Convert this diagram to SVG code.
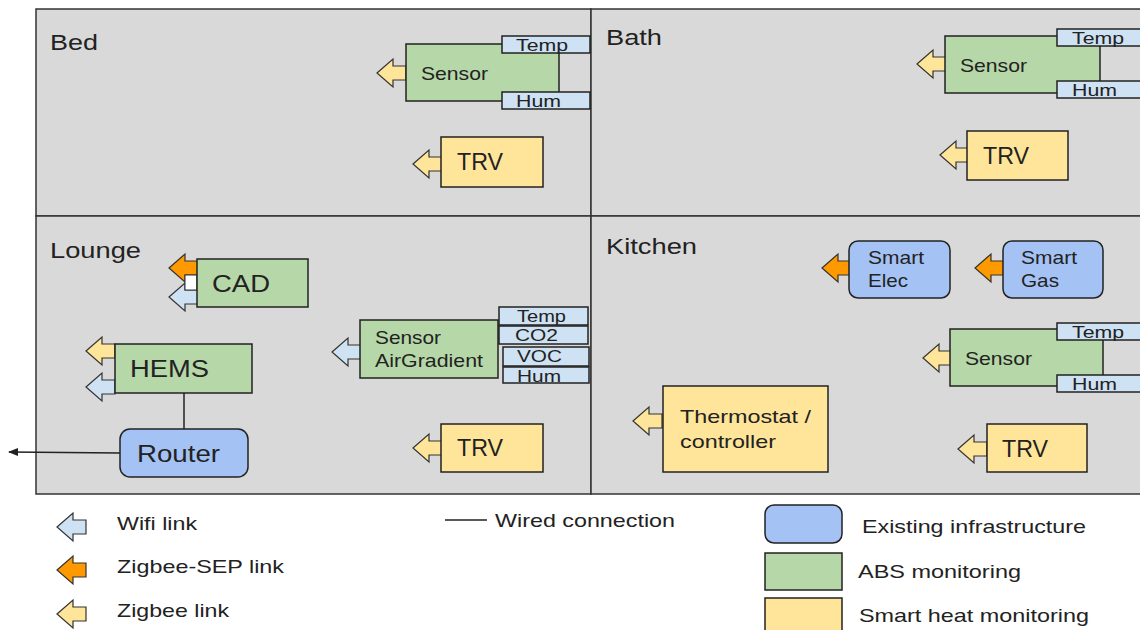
<svg xmlns="http://www.w3.org/2000/svg" width="1140" height="630" viewBox="0 0 1140 630">
<style>
text{font-family:"Liberation Sans",Arial,sans-serif;fill:#222}
.room{fill:#d9d9d9;stroke:#333;stroke-width:1.5}
.g{fill:#b6d7a8;stroke:#222;stroke-width:1.5}
.b{fill:#a4c2f4;stroke:#222;stroke-width:1.5}
.y{fill:#ffe599;stroke:#222;stroke-width:1.5}
.lb{fill:#cfe2f3;stroke:#222;stroke-width:1.5}
.aw{fill:#cfe2f3;stroke:#333;stroke-width:1.2}
.az{fill:#ffe599;stroke:#333;stroke-width:1.2}
.ao{fill:#ff9900;stroke:#333;stroke-width:1.2}
.lbl{font-size:22px}
.s16{font-size:17px}
.s18{font-size:19px}
.s22{font-size:23px}
.wire{stroke:#222;stroke-width:1.5;fill:none}
</style>
<defs>
<path id="arr" d="M0,0 L16,-14 L16,-7 L29,-7 L29,7 L16,7 L16,14 Z"/>
<marker id="mk" viewBox="0 0 10 10" refX="9" refY="5" markerWidth="7" markerHeight="7" orient="auto-start-reverse"><path d="M0,1 L10,5 L0,9 Z" fill="#222"/></marker>
</defs>
<rect width="1140" height="630" fill="#fff"/>
<g id="rooms">
<g id="bed"><rect class="room" x="36" y="9" width="555" height="207"/><text class="lbl" x="50" y="50" textLength="48" lengthAdjust="spacingAndGlyphs">Bed</text></g>
<g id="bath"><rect class="room" x="591" y="9" width="552" height="207"/><text class="lbl" x="606" y="45" textLength="56" lengthAdjust="spacingAndGlyphs">Bath</text></g>
<g id="lounge"><rect class="room" x="36" y="216" width="555" height="278"/><text class="lbl" x="50" y="258" textLength="91" lengthAdjust="spacingAndGlyphs">Lounge</text></g>
<g id="kitchen"><rect class="room" x="591" y="216" width="552" height="278"/><text class="lbl" x="606" y="254" textLength="91" lengthAdjust="spacingAndGlyphs">Kitchen</text></g>
</g>
<g id="connectors">
<line class="wire" x1="184" y1="393" x2="184" y2="429"/>
<line class="wire" x1="120" y1="453" x2="9" y2="452" marker-end="url(#mk)"/>
</g>
<g id="bed-sensor">
<use href="#arr" class="az" x="377" y="73"/>
<rect class="g" x="406" y="44" width="153" height="57"/>
<text class="s18" x="421" y="80" textLength="67" lengthAdjust="spacingAndGlyphs">Sensor</text>
<rect class="lb" x="502" y="36" width="88" height="17"/><text class="s16" x="516" y="51" textLength="52" lengthAdjust="spacingAndGlyphs">Temp</text>
<rect class="lb" x="502" y="92" width="88" height="17"/><text class="s16" x="516" y="107" textLength="45" lengthAdjust="spacingAndGlyphs">Hum</text>
</g>
<g id="bed-trv">
<use href="#arr" class="az" x="413" y="164"/>
<rect class="y" x="441" y="137" width="102" height="50"/>
<text class="s22" x="457" y="170" textLength="46" lengthAdjust="spacingAndGlyphs">TRV</text>
</g>
<g id="bath-sensor">
<use href="#arr" class="az" x="917" y="64"/>
<rect class="g" x="945" y="36" width="155" height="57"/>
<text class="s18" x="960" y="72" textLength="67" lengthAdjust="spacingAndGlyphs">Sensor</text>
<rect class="lb" x="1057" y="29" width="88" height="17"/><text class="s16" x="1072" y="44" textLength="52" lengthAdjust="spacingAndGlyphs">Temp</text>
<rect class="lb" x="1057" y="81" width="88" height="17"/><text class="s16" x="1072" y="96" textLength="45" lengthAdjust="spacingAndGlyphs">Hum</text>
</g>
<g id="bath-trv">
<use href="#arr" class="az" x="940" y="155"/>
<rect class="y" x="967" y="131" width="101" height="49"/>
<text class="s22" x="983" y="164" textLength="46" lengthAdjust="spacingAndGlyphs">TRV</text>
</g>
<g id="cad">
<use href="#arr" class="ao" x="169" y="268"/>
<use href="#arr" class="aw" x="169" y="297"/>
<rect x="185" y="275" width="12" height="15" fill="#fff" stroke="#333" stroke-width="1"/>
<rect class="g" x="197" y="259" width="111" height="48"/>
<text class="s22" x="212" y="292" textLength="58" lengthAdjust="spacingAndGlyphs">CAD</text>
</g>
<g id="hems">
<use href="#arr" class="az" x="86" y="351"/>
<use href="#arr" class="aw" x="86" y="387"/>
<rect class="g" x="115" y="344" width="137" height="49"/>
<text class="s22" x="130" y="377" textLength="79" lengthAdjust="spacingAndGlyphs">HEMS</text>
</g>
<g id="router">
<rect class="b" x="120" y="429" width="128" height="48" rx="10"/>
<text class="s22" x="137" y="462" textLength="83" lengthAdjust="spacingAndGlyphs">Router</text>
</g>
<g id="airgradient">
<use href="#arr" class="aw" x="332" y="352"/>
<rect class="g" x="360" y="320" width="138" height="58"/>
<text class="s18" x="375" y="344" textLength="66" lengthAdjust="spacingAndGlyphs">Sensor</text>
<text class="s18" x="375" y="367" textLength="108" lengthAdjust="spacingAndGlyphs">AirGradient</text>
<rect class="lb" x="499" y="307" width="89" height="18"/><text class="s16" x="517" y="322" textLength="49" lengthAdjust="spacingAndGlyphs">Temp</text>
<rect class="lb" x="499" y="326" width="89" height="18"/><text class="s16" x="515" y="341" textLength="43" lengthAdjust="spacingAndGlyphs">CO2</text>
<rect class="lb" x="503" y="347" width="86" height="19"/><text class="s16" x="517" y="362" textLength="45" lengthAdjust="spacingAndGlyphs">VOC</text>
<rect class="lb" x="503" y="367" width="86" height="16"/><text class="s16" x="517" y="382" textLength="44" lengthAdjust="spacingAndGlyphs">Hum</text>
</g>
<g id="lounge-trv">
<use href="#arr" class="az" x="413" y="448"/>
<rect class="y" x="441" y="424" width="102" height="48"/>
<text class="s22" x="457" y="456" textLength="46" lengthAdjust="spacingAndGlyphs">TRV</text>
</g>
<g id="smart-elec">
<use href="#arr" class="ao" x="822" y="268"/>
<rect class="b" x="849" y="241" width="101" height="57" rx="9"/>
<text class="s18" x="868" y="264" textLength="56" lengthAdjust="spacingAndGlyphs">Smart</text>
<text class="s18" x="868" y="287" textLength="40" lengthAdjust="spacingAndGlyphs">Elec</text>
</g>
<g id="smart-gas">
<use href="#arr" class="ao" x="975" y="268"/>
<rect class="b" x="1003" y="241" width="100" height="57" rx="9"/>
<text class="s18" x="1021" y="264" textLength="56" lengthAdjust="spacingAndGlyphs">Smart</text>
<text class="s18" x="1021" y="287" textLength="38" lengthAdjust="spacingAndGlyphs">Gas</text>
</g>
<g id="kitchen-sensor">
<use href="#arr" class="az" x="923" y="358"/>
<rect class="g" x="950" y="329" width="153" height="57"/>
<text class="s18" x="965" y="365" textLength="67" lengthAdjust="spacingAndGlyphs">Sensor</text>
<rect class="lb" x="1057" y="323" width="88" height="17"/><text class="s16" x="1072" y="338" textLength="52" lengthAdjust="spacingAndGlyphs">Temp</text>
<rect class="lb" x="1057" y="375" width="88" height="17"/><text class="s16" x="1072" y="390" textLength="45" lengthAdjust="spacingAndGlyphs">Hum</text>
</g>
<g id="thermostat">
<use href="#arr" class="az" x="633" y="421"/>
<rect class="y" x="663" y="386" width="165" height="86"/>
<text class="s18" x="680" y="423" textLength="131" lengthAdjust="spacingAndGlyphs">Thermostat /</text>
<text class="s18" x="680" y="448" textLength="96" lengthAdjust="spacingAndGlyphs">controller</text>
</g>
<g id="kitchen-trv">
<use href="#arr" class="az" x="958" y="449"/>
<rect class="y" x="987" y="424" width="100" height="48"/>
<text class="s22" x="1002" y="457" textLength="46" lengthAdjust="spacingAndGlyphs">TRV</text>
</g>
<g id="legend">
<use href="#arr" class="aw" x="57" y="527"/>
<text class="s18" x="117" y="530" textLength="80" lengthAdjust="spacingAndGlyphs">Wifi link</text>
<use href="#arr" class="ao" x="57" y="570"/>
<text class="s18" x="117" y="573" textLength="167" lengthAdjust="spacingAndGlyphs">Zigbee-SEP link</text>
<use href="#arr" class="az" x="57" y="614"/>
<text class="s18" x="117" y="617" textLength="112" lengthAdjust="spacingAndGlyphs">Zigbee link</text>
<line class="wire" x1="445" y1="520" x2="487" y2="520"/>
<text class="s18" x="495" y="527" textLength="180" lengthAdjust="spacingAndGlyphs">Wired connection</text>
<rect class="b" x="765" y="505" width="77" height="38" rx="9"/>
<text class="s18" x="862" y="533" textLength="224" lengthAdjust="spacingAndGlyphs">Existing infrastructure</text>
<rect class="g" x="765" y="553" width="77" height="37"/>
<text class="s18" x="858" y="578" textLength="163" lengthAdjust="spacingAndGlyphs">ABS monitoring</text>
<rect class="y" x="765" y="598" width="77" height="40"/>
<text class="s18" x="859" y="622" textLength="230" lengthAdjust="spacingAndGlyphs">Smart heat monitoring</text>
</g>
</svg>
